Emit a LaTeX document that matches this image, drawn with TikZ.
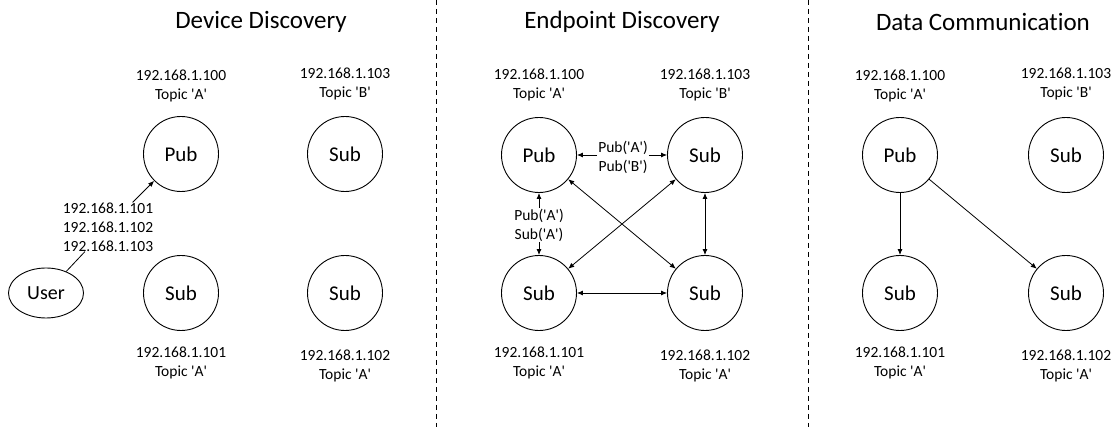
\documentclass[tikz,border=0pt]{standalone}
\usepackage{fontspec}
\setmainfont{Carlito}[Ligatures={TeX,NoCommon}]
\usetikzlibrary{arrows.meta,shapes.geometric}
\newcommand{\sq}{\textquotesingle}
\begin{document}
\begin{tikzpicture}[x=1pt,y=-1pt,
  every node/.style={inner sep=1pt},
  circ/.style={circle, draw, line width=0.9pt, minimum size=75pt, inner sep=0pt, font=\fontsize{21}{25}\selectfont},
  usr/.style={ellipse, draw, line width=0.9pt, minimum width=75pt, minimum height=50pt, inner sep=0pt, font=\fontsize{20}{24}\selectfont},
  lbl/.style={align=center, font=\fontsize{15.5}{19}\selectfont},
  ttl/.style={font=\fontsize{25}{30}\selectfont},
  conn/.style={line width=0.8pt},
  arr/.style={conn, -{Latex[length=6pt,width=5pt]}},
  darr/.style={conn, {Latex[length=6pt,width=5pt]}-{Latex[length=6pt,width=5pt]}},
  sep/.style={line width=0.8pt, dash pattern=on 5pt off 4pt}]
\useasboundingbox (0,0) rectangle (1117,427);
% separators
\draw[sep] (436,0) -- (436,427);
\draw[sep] (808,0) -- (808,427);
% ---------- Device Discovery ----------
\node[ttl] (t1) at (261,22) {Device Discovery};
\node[circ] (p1) at (181,154) {Pub};
\node[circ] (s1b) at (345,154) {Sub};
\node[circ] (s1c) at (181,293) {Sub};
\node[circ] (s1d) at (345,293) {Sub};
\node[lbl] (l1a) at (181,86) {192.168.1.100\\Topic \sq A\sq};
\node[lbl] (l1b) at (345,84) {192.168.1.103\\Topic \sq B\sq};
\node[lbl] (l1c) at (181,363) {192.168.1.101\\Topic \sq A\sq};
\node[lbl] (l1d) at (345,366) {192.168.1.102\\Topic \sq A\sq};
\node[usr] (user) at (46,293) {User};
\node[lbl, inner sep=0pt] (ips) at (108,227) {192.168.1.101\\192.168.1.102\\192.168.1.103};
\draw[arr] (ips) -- (p1);
\draw[conn] (user) -- (ips);
% ---------- Endpoint Discovery ----------
\node[ttl] (t2) at (622,22) {Endpoint Discovery};
\node[circ] (p2) at (539,155) {Pub};
\node[circ] (s2b) at (705,155) {Sub};
\node[circ] (s2c) at (539,293) {Sub};
\node[circ] (s2d) at (705,293) {Sub};
\node[lbl] (l2a) at (539,85) {192.168.1.100\\Topic \sq A\sq};
\node[lbl] (l2b) at (705,85) {192.168.1.103\\Topic \sq B\sq};
\node[lbl] (l2c) at (539,363) {192.168.1.101\\Topic \sq A\sq};
\node[lbl] (l2d) at (705,366) {192.168.1.102\\Topic \sq A\sq};
\node[lbl] (e1) at (623,157) {Pub(\sq A\sq)\\Pub(\sq B\sq)};
\node[lbl] (e2) at (539,225) {Pub(\sq A\sq)\\Sub(\sq A\sq)};
\draw[arr] (e1.west |- p2) -- (p2);
\draw[arr] (e1.east |- s2b) -- (s2b);
\draw[arr] (e2) -- (p2);
\draw[arr] (e2) -- (s2c);
\draw[darr] (p2) -- (s2d);
\draw[darr] (s2b) -- (s2c);
\draw[darr] (s2b) -- (s2d);
\draw[darr] (s2c) -- (s2d);
% ---------- Data Communication ----------
\node[ttl] (t3) at (983,22) {Data Communication};
\node[circ] (p3) at (900,155) {Pub};
\node[circ] (s3b) at (1066,155) {Sub};
\node[circ] (s3c) at (900,293) {Sub};
\node[circ] (s3d) at (1066,293) {Sub};
\node[lbl] (l3a) at (900,86) {192.168.1.100\\Topic \sq A\sq};
\node[lbl] (l3b) at (1066,84) {192.168.1.103\\Topic \sq B\sq};
\node[lbl] (l3c) at (900,363) {192.168.1.101\\Topic \sq A\sq};
\node[lbl] (l3d) at (1066,366) {192.168.1.102\\Topic \sq A\sq};
\draw[arr] (p3) -- (s3c);
\draw[arr] (p3) -- (s3d);
\end{tikzpicture}
\end{document}
